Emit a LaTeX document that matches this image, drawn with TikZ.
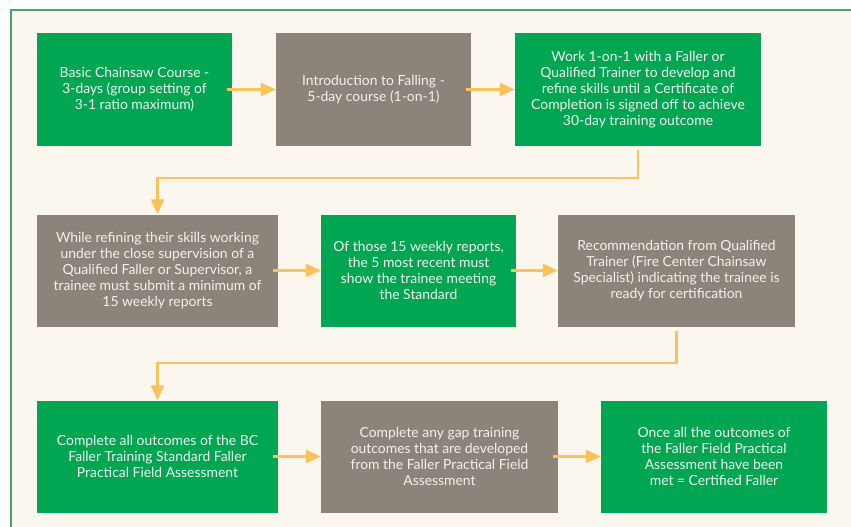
\documentclass[tikz,border=0pt]{standalone}
\usepackage{fontspec}
\setmainfont{Lato}
\usepackage{tikz}
\usetikzlibrary{arrows.meta,positioning}
\definecolor{fcGreen}{HTML}{00A651}
\definecolor{fcGray}{HTML}{8C847A}
\definecolor{fcCream}{HTML}{FCF7EE}
\definecolor{fcFrame}{HTML}{3DA86E}
\definecolor{fcArrow}{HTML}{FDC15A}
\definecolor{fcText}{HTML}{F3F1EC}

\begin{document}
\begin{tikzpicture}[
    x=1pt,y=-1pt,
    font=\fontsize{13.9}{16}\selectfont,
    stepbox/.style={draw=none,inner sep=0pt,minimum height=112pt,align=center,text=fcText},
    greenbox/.style={stepbox,fill=fcGreen},
    graybox/.style={stepbox,fill=fcGray},
    flow/.style={draw=fcArrow,line width=2.5pt,-{Triangle[length=15pt,width=13pt]}}
  ]
    \useasboundingbox (0,0) rectangle (851,527);
    \fill[white] (0,0) rectangle (851,527);
    \fill[fcCream] (11,10) rectangle (851,527);
    \draw[fcFrame,line width=1.5pt] (11,527) -- (11,10) -- (851,10);

    \node[greenbox,minimum width=195pt] (basic)  at (134.5,89.5) {Basic Chainsaw Course -\\3-days (group setting of\\3-1 ratio maximum)};
    \node[graybox,minimum width=195pt]  (intro)  at (373.5,89.5) {Introduction to Falling -\\5-day course (1-on-1)};
    \node[greenbox,minimum width=246pt] (work)   at (638,89.5)   {Work 1-on-1 with a Faller or\\Qualified Trainer to develop and\\refine skills until a Certificate of\\Completion is signed off to achieve\\30-day training outcome};

    \node[graybox,minimum width=241pt]  (refine) at (157.5,270.5) {While refining their skills working\\under the close supervision of a\\Qualified Faller or Supervisor, a\\trainee must submit a minimum of\\15 weekly reports};
    \node[greenbox,minimum width=195pt] (recent) at (418.5,270.5) {Of those 15 weekly reports,\\the 5 most recent must\\show the trainee meeting\\the Standard};
    \node[graybox,minimum width=237pt]  (recom)  at (676.5,270.5) {Recommendation from Qualified\\Trainer (Fire Center Chainsaw\\Specialist) indicating the trainee is\\ready for certification};

    \node[greenbox,minimum width=241pt] (bcstd)  at (157.5,456.5) {Complete all outcomes of the BC\\Faller Training Standard Faller\\Practical Field Assessment};
    \node[graybox,minimum width=237pt]  (gap)    at (439.5,456.5) {Complete any gap training\\outcomes that are developed\\from the Faller Practical Field\\Assessment};
    \node[greenbox,minimum width=226pt] (cert)   at (714,456.5)   {Once all the outcomes of\\the Faller Field Practical\\Assessment have been\\met = Certified Faller};

    \coordinate (bend1) at (157.5,178);
    \coordinate (bend2) at (157.5,363);

    \draw[flow] ([xshift=-5pt]basic.east) -- (intro.west);
    \draw[flow] ([xshift=-5pt]intro.east) -- (work.west);
    \draw[flow] ([yshift=-4pt]work.south) |- (bend1) -- (refine.north);
    \draw[flow] ([xshift=-5pt]refine.east) -- (recent.west);
    \draw[flow] ([xshift=-5pt]recent.east) -- (recom.west);
    \draw[flow] ([yshift=-4pt]recom.south) |- (bend2) -- (bcstd.north);
    \draw[flow] ([xshift=-5pt]bcstd.east) -- (gap.west);
    \draw[flow] ([xshift=-5pt]gap.east) -- (cert.west);
  \end{tikzpicture}
\end{document}
